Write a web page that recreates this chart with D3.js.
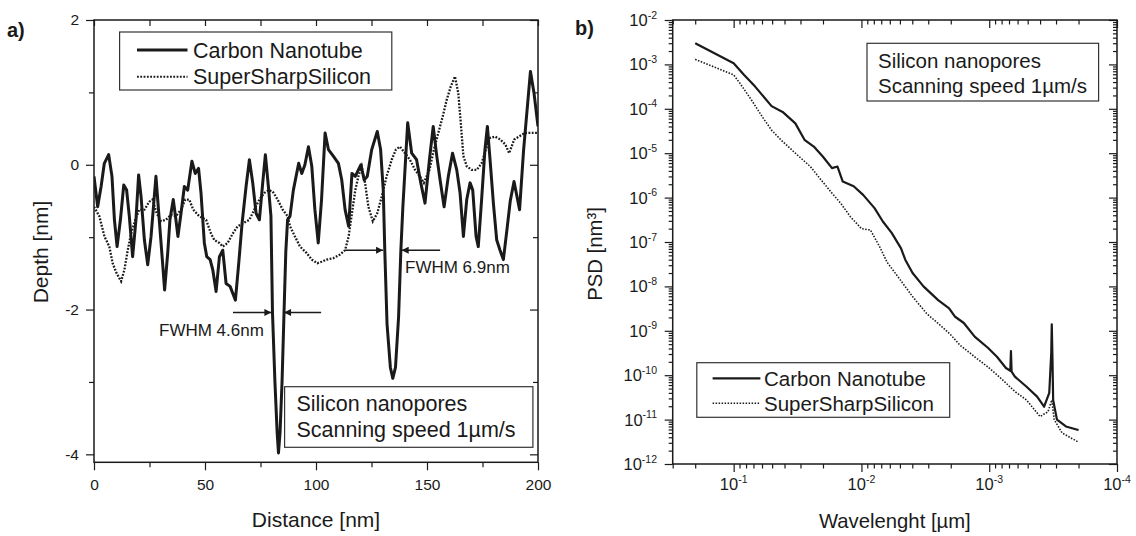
<!DOCTYPE html>
<html><head><meta charset="utf-8">
<script src="https://cdn.jsdelivr.net/npm/d3@7"></script>
<style>
body{margin:0;background:#fff;}
svg{display:block;font-family:"Liberation Sans",Arial,Helvetica,sans-serif;}
</style></head><body>
<svg id="c" width="1136" height="536"></svg>
<script>
// ---------- Panel a) depth profiles ----------
const cntDistance = [0,1.65,3.2,4.65,6.6,8.1,9.2,10.4,11.9,13.4,14.7,15.9,17.4,18.9,20.1,21.2,22.7,24.2,25.7,27.9,29.4,30.9,31.8,33.2,34.2,35.7,36.9,37.8,39.2,40.7,42.2,44.1,45.6,47.1,48.2,49.7,50.8,52.3,53.5,55.0,56.5,58.0,59.5,61.3,63.7,65.2,66.7,68.5,70.0,71.5,73.0,74.5,76.0,77.2,78.7,79.7,80.4,81.5,82.5,83.1,83.8,84.7,85.6,86.4,87.2,88.3,89.8,92.2,93.6,95.0,96.6,98.1,99.5,101.0,102.5,104.1,105.6,107.8,110.1,111.6,113.1,114.7,116.2,117.7,119.1,120.2,121.7,123.1,125.1,127.6,129.1,130.3,131.0,132.0,133.5,134.6,135.8,137.2,138.2,139.1,140.6,141.3,143.1,145.3,147.2,149.1,151.1,152.8,154.4,155.9,157.7,159.6,161.5,163.4,164.9,166.4,167.9,169.4,170.6,172.1,173.1,174.6,176.1,177.2,178.4,179.9,181.4,182.9,184.4,186.0,187.5,189.2,191.7,193.5,196.6,198.2,200];
const cntDepth = [-0.16,-0.58,-0.30,0.02,0.14,-0.16,-0.76,-1.13,-0.76,-0.28,-0.35,-0.71,-1.27,-0.76,-0.14,-0.44,-1.04,-1.38,-0.99,-0.16,-0.76,-1.36,-1.73,-1.22,-0.76,-0.48,-0.76,-0.99,-0.67,-0.30,-0.35,0.05,-0.12,-0.05,-0.39,-1.08,-1.27,-1.31,-1.45,-1.75,-1.27,-1.18,-1.64,-1.68,-1.87,-1.36,-0.81,-0.30,0.07,-0.25,-0.67,-0.76,-0.25,0.14,-0.35,-0.71,-2.04,-3.0,-3.7,-3.98,-3.7,-3.0,-2.04,-1.2,-0.76,-0.71,-0.35,0.02,-0.12,0.0,0.25,-0.02,-0.62,-1.08,-0.48,0.44,0.21,0.12,0.02,-0.21,-0.62,-0.85,-0.12,-0.16,-0.07,0.0,-0.21,-0.16,0.21,0.46,0.21,-0.35,-1.2,-2.2,-2.8,-2.95,-2.8,-2.1,-1.2,-0.6,0.21,0.58,0.16,0.07,-0.25,-0.53,0.07,0.53,0.12,-0.21,-0.58,-0.16,0.16,-0.07,-0.39,-0.99,-0.48,-0.25,-0.35,-0.99,-1.13,-0.48,0.21,0.53,0.07,-0.53,-1.04,-1.18,-1.31,-0.9,-0.5,-0.23,-0.62,0.2,1.29,0.99,0.53];
const sssDistance = [0,2.4,4.7,6.9,8.4,10.2,12.2,13.7,15.2,16.7,18.6,20.4,22.7,24.9,26.4,28.2,30.2,32.4,34.7,36.9,39.2,41.1,42.9,44.7,47.4,50.5,52.7,54.2,56.5,58.0,60.2,62.5,64.7,67.0,70.0,72.2,74.5,76.7,78.7,80.5,82.7,85.0,87.2,88.3,90.5,92.8,95.8,98.1,100.6,102.5,104.8,107.8,110.8,113.1,114.7,116.2,117.7,119.1,120.6,122.1,123.6,125.6,127.6,129.6,131.8,134.1,136.0,137.8,140.1,142.3,144.6,146.8,148.6,151.1,153.1,155.1,157.1,158.9,160.7,162.6,164.1,165.2,166.4,167.9,170.1,172.4,174.6,176.9,178.4,180.6,183.0,185.3,187.0,189.3,194.1,200];
const sssDepth = [-0.58,-0.71,-0.99,-1.13,-1.36,-1.50,-1.61,-1.45,-1.18,-0.95,-0.76,-0.62,-0.62,-0.51,-0.48,-0.67,-0.78,-0.76,-0.69,-0.71,-0.62,-0.48,-0.48,-0.62,-0.71,-0.76,-0.95,-1.04,-1.08,-1.13,-1.08,-0.95,-0.85,-0.81,-0.76,-0.62,-0.48,-0.39,-0.35,-0.37,-0.48,-0.62,-0.71,-0.85,-0.99,-1.13,-1.22,-1.31,-1.36,-1.34,-1.31,-1.29,-1.24,-1.18,-0.99,-0.67,-0.35,-0.16,-0.02,-0.25,-0.58,-0.78,-0.67,-0.44,-0.16,0.07,0.21,0.25,0.16,0.07,-0.07,-0.16,-0.25,-0.07,0.21,0.44,0.67,0.90,1.08,1.22,0.99,0.58,0.12,-0.02,-0.07,-0.07,0.02,0.25,0.37,0.39,0.35,0.28,0.16,0.35,0.44,0.44];
const depthXTicks = [0,50,100,150,200];
const depthXMinor = [25,75,125,175];
const depthYTicks = [-4,-2,0,2];
const depthYMinor = [-3,-1,1];

// ---------- Panel b) PSD ----------
const cntWavelength = [0.2,0.1,0.0828,0.0679,0.0505,0.0414,0.0329,0.0279,0.0236,0.0200,0.0170,0.0154,0.0140,0.0115,0.0097,0.0079,0.0068,0.0058,0.0049,0.00454,0.00398,0.00327,0.00251,0.00206,0.00186,0.00158,0.00130,0.00102,0.00087,0.00074,0.000684,0.000676,0.000668,0.00063,0.00051,0.000422,0.000372,0.000339,0.000327,0.000324,0.00032,0.000316,0.000295,0.000251,0.000204,0.0002];
const cntPSD = [2.99e-3,1.06e-3,5.75e-4,3.16e-4,1.15e-4,8.5e-5,4.7e-5,2.0e-5,1.41e-5,8.3e-6,4.6e-6,5.0e-6,2.3e-6,1.8e-6,1.15e-6,5.8e-7,2.9e-7,1.6e-7,7.2e-8,4.0e-8,2.0e-8,1.0e-8,4.9e-9,3.2e-9,2.1e-9,1.5e-9,7.4e-10,4.1e-10,2.6e-10,1.45e-10,1.26e-10,3.5e-10,1.2e-10,9.3e-11,5.5e-11,3.3e-11,1.95e-11,4.0e-11,3.2e-10,1.4e-9,2.5e-10,2.75e-11,1.0e-11,7.0e-12,5.9e-12,5.8e-12];
const sssWavelength = [0.2,0.1,0.089,0.0728,0.0597,0.0505,0.0427,0.0329,0.0251,0.0207,0.0170,0.0145,0.0122,0.0100,0.0085,0.0072,0.0063,0.00519,0.00398,0.00309,0.00234,0.0020,0.0017,0.0013,0.0010,0.00081,0.00069,0.00063,0.00051,0.0004,0.000347,0.000324,0.00031,0.000269,0.000204,0.0002];
const sssPSD = [1.3e-3,5.8e-4,3.7e-4,1.6e-4,6.6e-5,3.3e-5,2.0e-5,1.0e-5,5.0e-6,2.5e-6,1.26e-6,7.4e-7,3.7e-7,2.0e-7,1.86e-7,7.8e-8,3.5e-8,1.66e-8,5.9e-9,2.45e-9,1.23e-9,8.1e-10,4.8e-10,2.6e-10,1.45e-10,8.5e-11,5.5e-11,4.3e-11,2.75e-11,1.17e-11,1.5e-11,2.75e-11,1.0e-11,5.0e-12,3.2e-12,3.0e-12];
const psdXExponents = [-1,-2,-3,-4];
const psdYExponents = [-2,-3,-4,-5,-6,-7,-8,-9,-10,-11,-12];

const seriesNames = ["Carbon Nanotube","SuperSharpSilicon"];
const infoLines = ["Silicon nanopores","Scanning speed 1\u00b5m/s"];

// ---------- drawing ----------
const svg = d3.select("#c");
const INK = "#1a1a1a";

function styleAxis(g, fs){
  g.select(".domain").remove();
  g.selectAll(".tick line").attr("stroke", INK).attr("stroke-width", 1.2);
  g.selectAll(".tick text").attr("font-size", fs).attr("fill", INK)
    .attr("font-family", '"Liberation Sans",Arial,sans-serif');
}

// Panel a
const xL = d3.scaleLinear().domain([0,200]).range([94,538]);
const yL = d3.scaleLinear().domain([-4.11,2]).range([462.3,20]);
const gA = svg.append("g");
const [aBottom, aTop] = yL.range();
const [aLeft, aRight] = xL.range();

gA.append("g").attr("transform",`translate(0,${aBottom})`)
  .call(d3.axisBottom(xL).tickValues(depthXTicks).tickSize(8).tickPadding(9).tickFormat(d=>String(d)))
  .call(styleAxis, 15.5);
gA.append("g").attr("transform",`translate(0,${aBottom})`)
  .call(d3.axisBottom(xL).tickValues(depthXMinor).tickSize(5).tickFormat(""))
  .call(styleAxis, 15);
gA.append("g").attr("transform",`translate(0,${aTop})`)
  .call(d3.axisTop(xL).tickValues(depthXTicks.concat(depthXMinor)).tickSize(-6).tickFormat(""))
  .call(styleAxis, 15);
gA.append("g").attr("transform",`translate(${aLeft},0)`)
  .call(d3.axisLeft(yL).tickValues(depthYTicks).tickSize(8).tickPadding(7).tickFormat(d=>String(d)))
  .call(styleAxis, 15.5);
gA.append("g").attr("transform",`translate(${aLeft},0)`)
  .call(d3.axisLeft(yL).tickValues(depthYMinor).tickSize(5).tickFormat(""))
  .call(styleAxis, 15);
gA.append("g").attr("transform",`translate(${aRight},0)`)
  .call(d3.axisRight(yL).tickValues(depthYTicks).tickSize(-8).tickFormat(""))
  .call(styleAxis, 15);
gA.append("g").attr("transform",`translate(${aRight},0)`)
  .call(d3.axisRight(yL).tickValues(depthYMinor).tickSize(-5).tickFormat(""))
  .call(styleAxis, 15);

svg.append("clipPath").attr("id","clipA").append("rect")
  .attr("x",aLeft).attr("y",aTop).attr("width",aRight-aLeft).attr("height",aBottom-aTop);

const lineA = d3.line().x(d=>xL(d[0])).y(d=>yL(d[1]));
gA.append("path").datum(sssDistance.map((d,i)=>[d,sssDepth[i]]))
  .attr("d",lineA).attr("fill","none").attr("stroke",INK).attr("stroke-width",2.3)
  .attr("stroke-dasharray","1.8,1.5").attr("clip-path","url(#clipA)");
gA.append("path").datum(cntDistance.map((d,i)=>[d,cntDepth[i]]))
  .attr("d",lineA).attr("fill","none").attr("stroke",INK).attr("stroke-width",3)
  .attr("stroke-linejoin","round").attr("clip-path","url(#clipA)");

gA.append("rect").attr("x",aLeft).attr("y",aTop).attr("width",aRight-aLeft).attr("height",aBottom-aTop)
  .attr("fill","none").attr("stroke",INK).attr("stroke-width",1.5);

// FWHM annotations (positions in data units)
const defs = svg.append("defs");
defs.append("marker").attr("id","arr").attr("viewBox","0 0 10 10").attr("refX",10).attr("refY",5)
  .attr("markerWidth",11).attr("markerHeight",7).attr("markerUnits","userSpaceOnUse").attr("orient","auto")
  .append("path").attr("d","M0,0 L10,5 L0,10 z").attr("fill",INK);
const fwhmArrows = [
  [62.6,79.9,-2.04],[102.3,85.6,-2.04],
  [113.1,130.2,-1.18],[155.9,138.6,-1.18]
];
fwhmArrows.forEach(a=>{
  gA.append("line").attr("x1",xL(a[0])).attr("x2",xL(a[1])).attr("y1",yL(a[2])).attr("y2",yL(a[2]))
    .attr("stroke",INK).attr("stroke-width",1.6).attr("marker-end","url(#arr)");
});
gA.append("text").attr("x",xL(29.3)).attr("y",yL(-2.36)).attr("font-size",17).attr("fill",INK).text("FWHM 4.6nm");
gA.append("text").attr("x",xL(140.1)).attr("y",yL(-1.49)).attr("font-size",17).attr("fill",INK).text("FWHM 6.9nm");

// legend a
const legA = gA.append("g");
legA.append("rect").attr("x",119.6).attr("y",32).attr("width",272.2).attr("height",58)
  .attr("fill","#fff").attr("stroke","#333").attr("stroke-width",1.2);
[[50,"none",2.8],[76.7,"1.8,1.5",2.0]].forEach((r,i)=>{
  legA.append("line").attr("x1",137).attr("x2",187.5).attr("y1",r[0]).attr("y2",r[0])
    .attr("stroke",INK).attr("stroke-width",r[2]).attr("stroke-dasharray",r[1]);
  legA.append("text").attr("x",193).attr("y",r[0]+7.7).attr("font-size",21.5).attr("fill",INK).text(seriesNames[i]);
});
// info box a
const infA = gA.append("g");
infA.append("rect").attr("x",284.6).attr("y",386.7).attr("width",248.3).attr("height",60.6)
  .attr("fill","#fff").attr("stroke","#333").attr("stroke-width",1.2);
infoLines.forEach((t,i)=>infA.append("text").attr("x",296.4).attr("y",411+i*26).attr("font-size",21.5).attr("fill",INK).text(t));

gA.append("text").attr("x",xL(100)).attr("y",527).attr("text-anchor","middle").attr("font-size",21).attr("fill",INK).text("Distance [nm]");
gA.append("text").attr("transform","translate(48,252) rotate(-90)").attr("text-anchor","middle").attr("font-size",21).attr("fill",INK).text("Depth [nm]");
gA.append("text").attr("x",7).attr("y",37).attr("font-size",20).attr("font-weight","bold").attr("fill",INK).text("a)");

// Panel b
const xR = d3.scaleLog().domain([0.3,1e-4]).range([672.7,1117]);
const yR = d3.scaleLog().domain([1e-12,1e-2]).range([464,20]);
const gB = svg.append("g");
const [bBottom,bTop] = yR.range();
const [bLeft,bRight] = xR.range();

const xMajor = psdXExponents.map(e=>Math.pow(10,e));
const yMajor = psdYExponents.map(e=>Math.pow(10,e));
const xMinor = [], yMinor = [];
for (let k=-4;k<=-1;k++) for (let m=2;m<=9;m++){ const v=m*Math.pow(10,k); if (v<=0.3+1e-9 && v>=1e-4) xMinor.push(v); }
for (let k=-12;k<=-3;k++) for (let m=2;m<=9;m++){ yMinor.push(m*Math.pow(10,k)); }

gB.append("g").attr("transform",`translate(0,${bBottom})`)
  .call(d3.axisBottom(xR).tickValues(xMajor).tickSize(8).tickFormat("")).call(styleAxis,15);
gB.append("g").attr("transform",`translate(0,${bBottom})`)
  .call(d3.axisBottom(xR).tickValues(xMinor).tickSize(4.5).tickFormat("")).call(styleAxis,15);
gB.append("g").attr("transform",`translate(0,${bTop})`)
  .call(d3.axisTop(xR).tickValues(xMajor).tickSize(-8).tickFormat("")).call(styleAxis,15);
gB.append("g").attr("transform",`translate(0,${bTop})`)
  .call(d3.axisTop(xR).tickValues(xMinor).tickSize(-4.5).tickFormat("")).call(styleAxis,15);
gB.append("g").attr("transform",`translate(${bLeft},0)`)
  .call(d3.axisLeft(yR).tickValues(yMajor).tickSize(8).tickFormat("")).call(styleAxis,15);
gB.append("g").attr("transform",`translate(${bLeft},0)`)
  .call(d3.axisLeft(yR).tickValues(yMinor).tickSize(4).tickFormat("")).call(styleAxis,15);
gB.append("g").attr("transform",`translate(${bRight},0)`)
  .call(d3.axisRight(yR).tickValues(yMajor).tickSize(-8).tickFormat("")).call(styleAxis,15);
gB.append("g").attr("transform",`translate(${bRight},0)`)
  .call(d3.axisRight(yR).tickValues(yMinor).tickSize(-4).tickFormat("")).call(styleAxis,15);

// power-of-ten labels
psdXExponents.forEach(e=>{
  const t = gB.append("text").attr("x",xR(Math.pow(10,e))).attr("y",490).attr("text-anchor","middle")
    .attr("font-size",16.5).attr("fill",INK);
  t.append("tspan").text("10");
  t.append("tspan").attr("font-size",10.5).attr("dy",-7.5).text(String(e));
});
psdYExponents.forEach(e=>{
  const t = gB.append("text").attr("x",657).attr("y",yR(Math.pow(10,e))+6).attr("text-anchor","end")
    .attr("font-size",16.5).attr("fill",INK);
  t.append("tspan").text("10");
  t.append("tspan").attr("font-size",10.5).attr("dy",-7.5).text(String(e));
});

svg.append("clipPath").attr("id","clipB").append("rect")
  .attr("x",bLeft).attr("y",bTop).attr("width",bRight-bLeft).attr("height",bBottom-bTop);
const lineB = d3.line().x(d=>xR(d[0])).y(d=>yR(d[1]));
gB.append("path").datum(sssWavelength.map((d,i)=>[d,sssPSD[i]]))
  .attr("d",lineB).attr("fill","none").attr("stroke",INK).attr("stroke-width",1.6)
  .attr("stroke-dasharray","1.5,1.5").attr("clip-path","url(#clipB)");
gB.append("path").datum(cntWavelength.map((d,i)=>[d,cntPSD[i]]))
  .attr("d",lineB).attr("fill","none").attr("stroke",INK).attr("stroke-width",2.2)
  .attr("stroke-linejoin","round").attr("clip-path","url(#clipB)");

gB.append("rect").attr("x",bLeft).attr("y",bTop).attr("width",bRight-bLeft).attr("height",bBottom-bTop)
  .attr("fill","none").attr("stroke",INK).attr("stroke-width",1.5);

// info box b
const infB = gB.append("g");
infB.append("rect").attr("x",867).attr("y",43.3).attr("width",231.6).attr("height",57.7)
  .attr("fill","#fff").attr("stroke","#333").attr("stroke-width",1.2);
infoLines.forEach((t,i)=>infB.append("text").attr("x",878).attr("y",68+i*25).attr("font-size",20.5).attr("fill",INK).text(t));
// legend b
const legB = gB.append("g");
legB.append("rect").attr("x",696.8).attr("y",362.7).attr("width",252.9).attr("height",54.6)
  .attr("fill","#fff").attr("stroke","#333").attr("stroke-width",1.2);
[[378.3,"none",2.2],[403.3,"1.5,1.5",1.4]].forEach((r,i)=>{
  legB.append("line").attr("x1",712.6).attr("x2",760.4).attr("y1",r[0]).attr("y2",r[0])
    .attr("stroke",INK).attr("stroke-width",r[2]).attr("stroke-dasharray",r[1]);
  legB.append("text").attr("x",764).attr("y",r[0]+7.3).attr("font-size",20.5).attr("fill",INK).text(seriesNames[i]);
});

gB.append("text").attr("x",(bLeft+bRight)/2).attr("y",528).attr("text-anchor","middle").attr("font-size",20.3).attr("fill",INK).text("Wavelenght [\u00b5m]");
gB.append("text").attr("transform","translate(602,254) rotate(-90)").attr("text-anchor","middle").attr("font-size",20.3).attr("fill",INK).text("PSD [nm\u00b3]");
gB.append("text").attr("x",575).attr("y",35).attr("font-size",20).attr("font-weight","bold").attr("fill",INK).text("b)");
</script>
</body></html>
